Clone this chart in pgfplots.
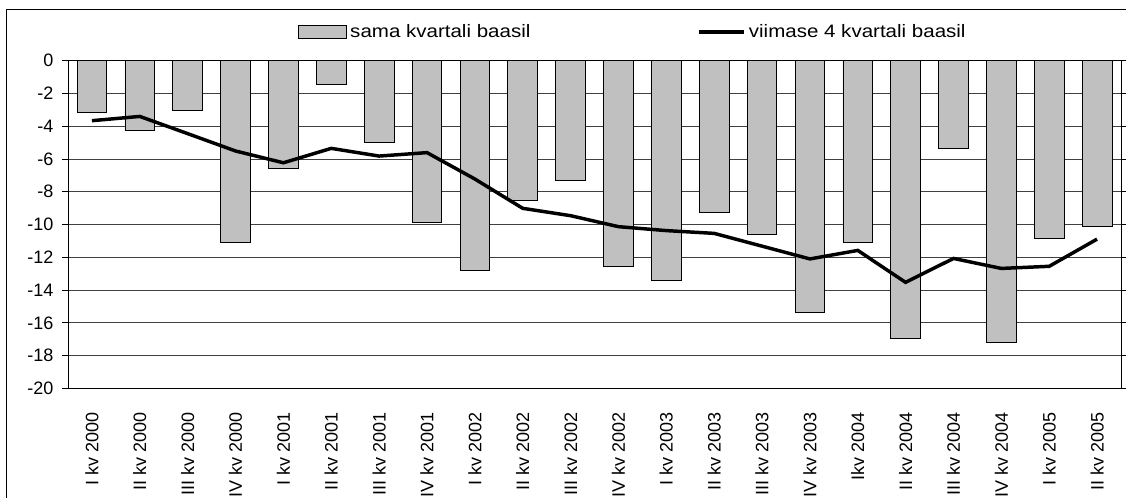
\documentclass[border=0pt]{standalone}
\usepackage{pgfplots}
\usepackage{pgfplotstable}
\pgfplotsset{compat=1.18}
\usepackage{fontspec}
\setmainfont{Liberation Sans}
\definecolor{barfill}{HTML}{C0C0C0}
\definecolor{gridc}{HTML}{404040}

\pgfplotstableread{
x bar line
0 -3.15 -3.66
1 -4.25 -3.40
2 -3.03 -4.45
3 -11.09 -5.51
4 -6.57 -6.23
5 -1.44 -5.35
6 -4.98 -5.82
7 -9.87 -5.61
8 -12.80 -7.22
9 -8.52 -9.01
10 -7.30 -9.46
11 -12.55 -10.13
12 -13.40 -10.37
13 -9.26 -10.54
14 -10.60 -11.32
15 -15.36 -12.10
16 -11.09 -11.58
17 -16.95 -13.53
18 -5.35 -12.07
19 -17.19 -12.68
20 -10.84 -12.55
21 -10.11 -10.89
}\datatable

\begin{document}
\begin{tikzpicture}
\useasboundingbox (0pt,0pt) rectangle (844.5pt,372.75pt);
\draw[line width=0.75pt] (4.5pt,-20pt) -- (4.5pt,365.25pt) -- (900pt,365.25pt);
\begin{axis}[
  at={(51pt,81.5pt)}, anchor=south west,
  scale only axis, width=789.75pt, height=245.7pt,
  xmin=-0.5, xmax=21.5, ymin=-20, ymax=0,
  ytick={-20,-18,...,0},
  xtick=data,
  xticklabels={I kv 2000,II kv 2000,III kv 2000,IV kv 2000,I kv 2001,II kv 2001,III kv 2001,IV kv 2001,I kv 2002,II kv 2002,III kv 2002,IV kv 2002,I kv 2003,II kv 2003,III kv 2003,IV kv 2003,Ikv 2004,II kv 2004,III kv 2004,IV kv 2004,I kv 2005,II kv 2005},
  xticklabel style={yshift=-9.75pt, rotate=90, anchor=east, font=\fontsize{13.5}{15}\selectfont},
  yticklabel={\pgfmathprintnumber[assume math mode=true]{\tick}},
  yticklabel style={font=\fontsize{13.5}{15}\selectfont, xshift=-3pt},
  x tick style={draw=none},
  y tick style={black, line width=0.75pt},
  tick align=outside, major tick length=4.5pt,
  ymajorgrids, grid style={gridc, line width=0.75pt},
  axis line style={black, line width=0.75pt},
  legend columns=2,
  legend style={at={(0.2184,1.0876)}, anchor=west, draw=none, fill=none, inner sep=0pt,
    font=\fontsize{13.5}{15}\selectfont,
    nodes={inner sep=0pt},
    /tikz/every odd column/.append style={column sep=2.5pt},
    /tikz/every even column/.append style={column sep=125pt}},
]
\addplot[ybar, bar width=0.62, fill=barfill, draw=black, line width=0.6pt,
  legend image code/.code={\draw[fill=barfill, draw=black, line width=0.5pt] (0pt,-5pt) rectangle (36pt,5pt);}]
  table[x=x, y=bar] {\datatable};
\addlegendentry{\scalebox{1.14}[1]{sama kvartali baasil}}
\addplot[black, line width=2.6pt, mark=none,
  legend image code/.code={\draw[black, line width=2.6pt] (0pt,0pt) -- (33.75pt,0pt);}]
  table[x=x, y=line] {\datatable};
\addlegendentry{\scalebox{1.14}[1]{viimase 4 kvartali baasil}}
\end{axis}
\end{tikzpicture}
\end{document}
